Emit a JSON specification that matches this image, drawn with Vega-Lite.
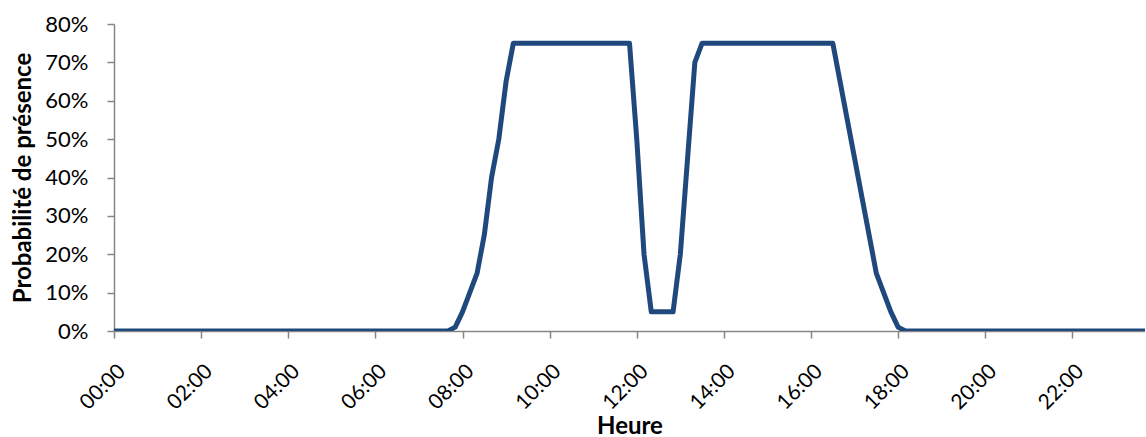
{
  "$schema": "https://vega.github.io/schema/vega-lite/v6.json",
  "width": 1031,
  "height": 307,
  "padding": {"left": 11, "top": 13, "right": 0, "bottom": 0},
  "background": "white",
  "config": {"view": {"stroke": null}, "font": "Lato"},
  "data": {
    "values": [
      {"minute": 0, "p": 0},
      {"minute": 460, "p": 0},
      {"minute": 470, "p": 0.01},
      {"minute": 480, "p": 0.05},
      {"minute": 490, "p": 0.10},
      {"minute": 500, "p": 0.15},
      {"minute": 510, "p": 0.25},
      {"minute": 520, "p": 0.40},
      {"minute": 530, "p": 0.50},
      {"minute": 540, "p": 0.65},
      {"minute": 550, "p": 0.75},
      {"minute": 710, "p": 0.75},
      {"minute": 720, "p": 0.50},
      {"minute": 730, "p": 0.20},
      {"minute": 740, "p": 0.05},
      {"minute": 770, "p": 0.05},
      {"minute": 780, "p": 0.20},
      {"minute": 790, "p": 0.45},
      {"minute": 800, "p": 0.70},
      {"minute": 810, "p": 0.75},
      {"minute": 990, "p": 0.75},
      {"minute": 1000, "p": 0.65},
      {"minute": 1010, "p": 0.55},
      {"minute": 1020, "p": 0.45},
      {"minute": 1030, "p": 0.35},
      {"minute": 1040, "p": 0.25},
      {"minute": 1050, "p": 0.15},
      {"minute": 1060, "p": 0.10},
      {"minute": 1070, "p": 0.05},
      {"minute": 1080, "p": 0.01},
      {"minute": 1090, "p": 0},
      {"minute": 1420, "p": 0}
    ]
  },
  "mark": {"type": "line", "color": "#1F497D", "strokeWidth": 5, "clip": true, "strokeJoin": "round"},
  "encoding": {
    "x": {
      "field": "minute",
      "type": "quantitative",
      "scale": {"domain": [0, 1420], "nice": false},
      "axis": {
        "title": "Heure",
        "values": [0, 120, 240, 360, 480, 600, 720, 840, 960, 1080, 1200, 1320],
        "labelExpr": "(datum.value / 60 < 10 ? '0' : '') + (datum.value / 60) + ':00'",
        "labelAngle": -45,
        "labelFontSize": 21,
        "labelColor": "black",
        "labelPadding": 22,
        "labelFlush": false,
        "labelOverlap": false,
        "grid": false,
        "domainColor": "#868686",
        "domainWidth": 1.5,
        "tickColor": "#868686",
        "tickWidth": 1.5,
        "tickSize": 7,
        "titleFontSize": 24,
        "titleFontWeight": "bold",
        "titleColor": "black",
        "titlePadding": 1
      }
    },
    "y": {
      "field": "p",
      "type": "quantitative",
      "scale": {"domain": [0, 0.8]},
      "axis": {
        "title": "Probabilité de présence",
        "format": "%",
        "tickCount": 8,
        "labelFontSize": 22,
        "labelColor": "black",
        "labelPadding": 19,
        "grid": false,
        "domainColor": "#868686",
        "domainWidth": 1.5,
        "tickColor": "#868686",
        "tickWidth": 1.5,
        "tickSize": 7,
        "titleFontSize": 24,
        "titleFontWeight": "bold",
        "titleColor": "black",
        "titlePadding": 9
      }
    }
  }
}
